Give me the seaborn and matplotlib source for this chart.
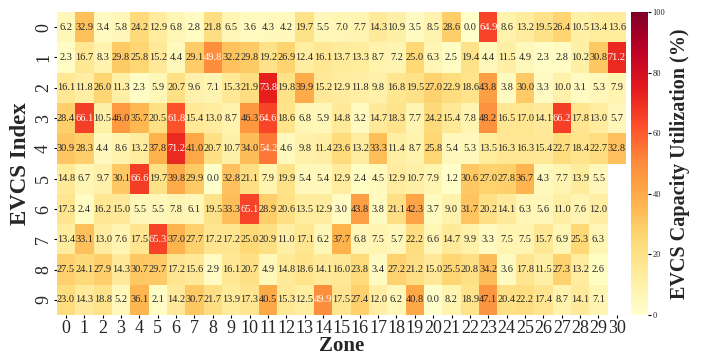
import matplotlib
matplotlib.use("Agg")
import matplotlib.pyplot as plt
import numpy as np
import pandas as pd
import seaborn as sns

sns.set_theme(style="white")
plt.rcParams["font.family"] = ["Liberation Serif", "DejaVu Serif"]

zones = list(range(31))
evcs_index = list(range(10))

row0 = [6.2, 32.9, 3.4, 5.8, 24.2, 12.9, 6.8, 2.8, 21.8, 6.5, 3.6, 4.3, 4.2, 19.7, 5.5, 7.0,
        7.7, 14.3, 10.9, 3.5, 8.5, 28.6, 0.0, 64.9, 8.6, 13.2, 19.5, 26.4, 10.5, 13.4, 13.6]
row1 = [2.3, 16.7, 8.3, 29.8, 25.8, 15.2, 4.4, 29.1, 49.8, 32.2, 29.8, 19.2, 26.9, 12.4, 16.1, 13.7,
        13.3, 8.7, 7.2, 25.0, 6.3, 2.5, 19.4, 4.4, 11.5, 4.9, 2.3, 2.8, 10.2, 30.8, 71.2]
row2 = [16.1, 11.8, 26.0, 11.3, 2.3, 5.9, 20.7, 9.6, 7.1, 15.3, 21.9, 73.8, 19.8, 39.9, 15.2, 12.9,
        11.8, 9.8, 16.8, 19.5, 27.0, 22.9, 18.6, 43.8, 3.8, 30.0, 3.3, 10.0, 3.1, 5.3, 7.9]
row3 = [28.4, 66.1, 10.5, 46.0, 35.7, 20.5, 61.8, 15.4, 13.0, 8.7, 46.3, 64.6, 18.6, 6.8, 5.9, 14.8,
        3.2, 14.7, 18.3, 7.7, 24.2, 15.4, 7.8, 48.2, 16.5, 17.0, 14.1, 66.2, 17.8, 13.0, 5.7]
row4 = [30.9, 28.3, 4.4, 8.6, 13.2, 37.8, 71.2, 41.0, 20.7, 10.7, 34.0, 54.2, 4.6, 9.8, 11.4, 23.6,
        13.2, 33.3, 11.4, 8.7, 25.8, 5.4, 5.3, 13.5, 16.3, 16.3, 15.4, 22.7, 18.4, 22.7, 32.8]
row5 = [14.8, 6.7, 9.7, 30.1, 66.6, 19.7, 39.8, 29.9, 0.0, 32.8, 21.1, 7.9, 19.9, 5.4, 5.4, 12.9,
        2.4, 4.5, 12.9, 10.7, 7.9, 1.2, 30.6, 27.0, 27.8, 36.7, 4.3, 7.7, 13.9, 5.5, np.nan]
row6 = [17.3, 2.4, 16.2, 15.0, 5.5, 5.5, 7.8, 6.1, 19.5, 33.3, 65.1, 28.9, 20.6, 13.5, 12.9, 3.0,
        43.8, 3.8, 21.1, 42.3, 3.7, 9.0, 31.7, 20.2, 14.1, 6.3, 5.6, 11.0, 7.6, 12.0, np.nan]
row7 = [13.4, 33.1, 13.0, 7.6, 17.5, 65.3, 37.0, 27.7, 17.2, 17.2, 25.0, 20.9, 11.0, 17.1, 6.2, 37.7,
        6.8, 7.5, 5.7, 22.2, 6.6, 14.7, 9.9, 3.3, 7.5, 7.5, 15.7, 6.9, 25.3, 6.3, np.nan]
row8 = [27.5, 24.1, 27.9, 14.3, 30.7, 29.7, 17.2, 15.6, 2.9, 16.1, 20.7, 4.9, 14.8, 18.6, 14.1, 16.0,
        23.8, 3.4, 27.2, 21.2, 15.0, 25.5, 20.8, 34.2, 3.6, 17.8, 11.5, 27.3, 13.2, 2.6, np.nan]
row9 = [23.0, 14.3, 18.8, 5.2, 36.1, 2.1, 14.2, 30.7, 21.7, 13.9, 17.3, 40.5, 15.3, 12.5, 49.9, 17.5,
        27.4, 12.0, 6.2, 40.8, 0.0, 8.2, 18.9, 47.1, 20.4, 22.2, 17.4, 8.7, 14.1, 7.1, np.nan]

util = pd.DataFrame([row0, row1, row2, row3, row4, row5, row6, row7, row8, row9],
                    index=evcs_index, columns=zones)

fig = plt.figure(figsize=(7.01, 3.54), dpi=100)
ax = fig.add_axes([0.081, 0.110, 0.812, 0.856])
cax = fig.add_axes([0.900, 0.110, 0.024, 0.856])

sns.heatmap(
    util,
    ax=ax,
    cbar_ax=cax,
    cmap="YlOrRd",
    vmin=0,
    vmax=100,
    annot=True,
    fmt=".1f",
    annot_kws={"fontsize": 7.5},
)

ax.set_xlabel("Zone", fontsize=15, fontweight="bold", labelpad=-1)
ax.set_ylabel("EVCS Index", fontsize=16.5, fontweight="bold", labelpad=3)
ax.tick_params(axis="both", labelsize=13, length=2.5, width=0.8, pad=1,
               bottom=True, left=True, color="black")
ax.set_xticklabels(zones, rotation=0)
ax.set_yticklabels(evcs_index, rotation=90, va="center")

cax.tick_params(labelsize=6, length=2.5, width=0.8, pad=1, right=True, color="black")
cax.set_ylabel("EVCS Capacity Utilization (%)", fontsize=14.5, fontweight="bold", labelpad=3)

fig.savefig("out.png", dpi=100)
